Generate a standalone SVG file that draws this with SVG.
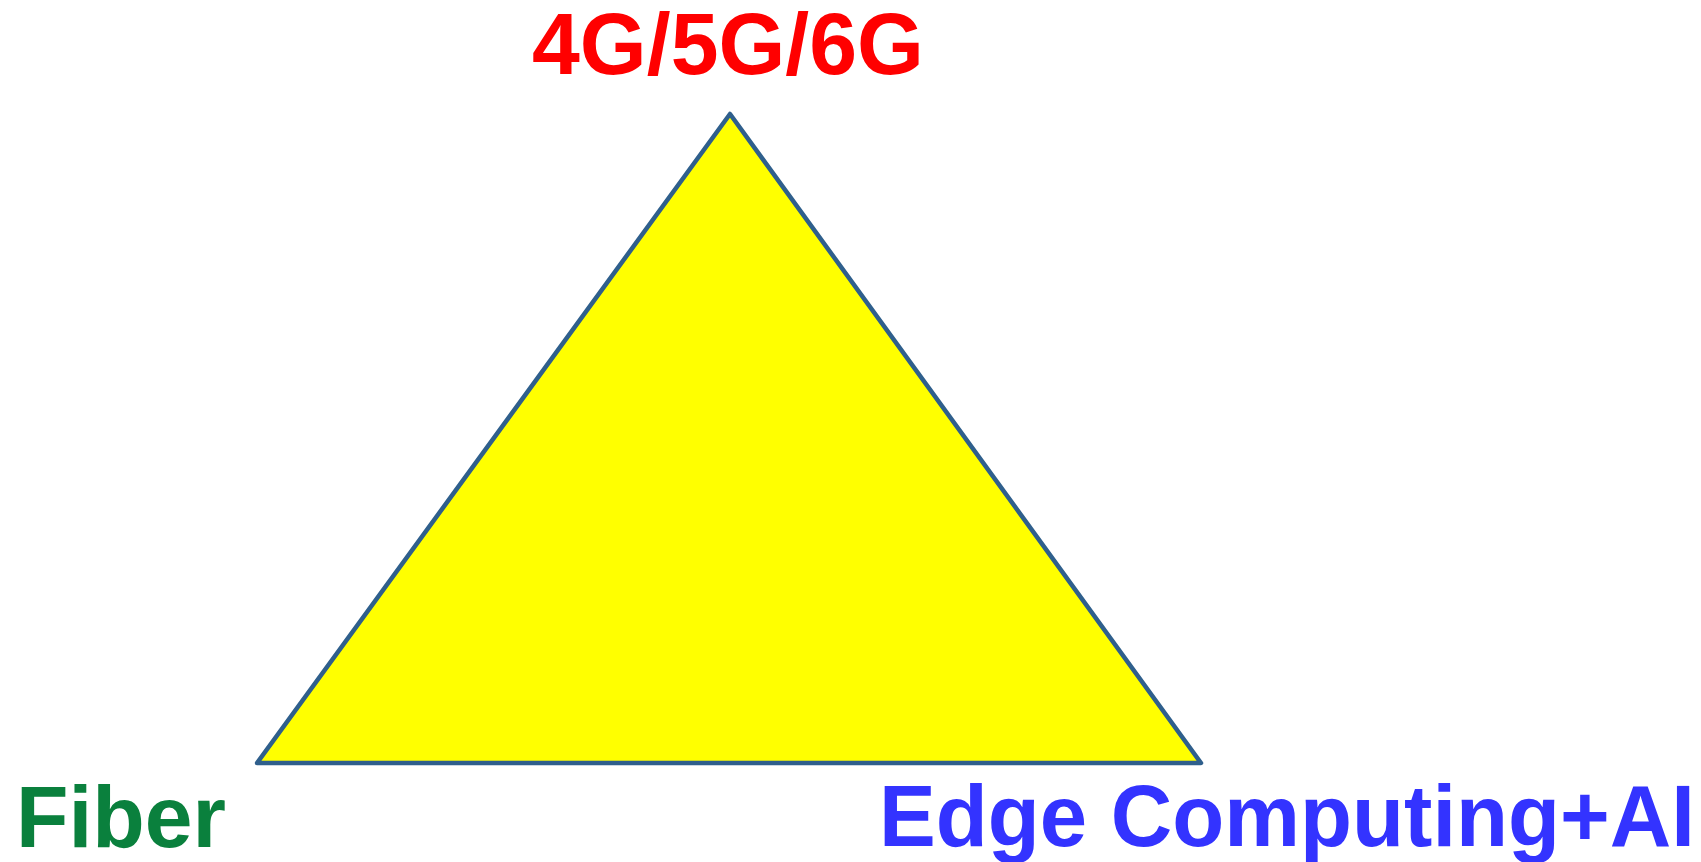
<svg xmlns="http://www.w3.org/2000/svg" width="1701" height="862" viewBox="0 0 1701 862">
<style>
.lbl{font-family:"Liberation Sans",Arial,sans-serif;font-weight:bold;font-size:87px;}
</style>
<rect width="1701" height="862" fill="#FFFFFF"/>
<g id="triangle">
<polygon points="730,114 1201,763 257,763" fill="#FFFF00" stroke="#2F5F8C" stroke-width="4.5" stroke-linejoin="round"/>
</g>
<g id="top">
<text class="lbl" x="532" y="74" fill="#FF0000" textLength="392" lengthAdjust="spacingAndGlyphs">4G/5G/6G</text>
</g>
<g id="fiber">
<text class="lbl" x="16" y="847" fill="#0A803D" textLength="210" lengthAdjust="spacingAndGlyphs">Fiber</text>
</g>
<g id="edge">
<text class="lbl" x="879" y="846" fill="#3333FF" textLength="816" lengthAdjust="spacingAndGlyphs">Edge Computing+AI</text>
</g>
</svg>
